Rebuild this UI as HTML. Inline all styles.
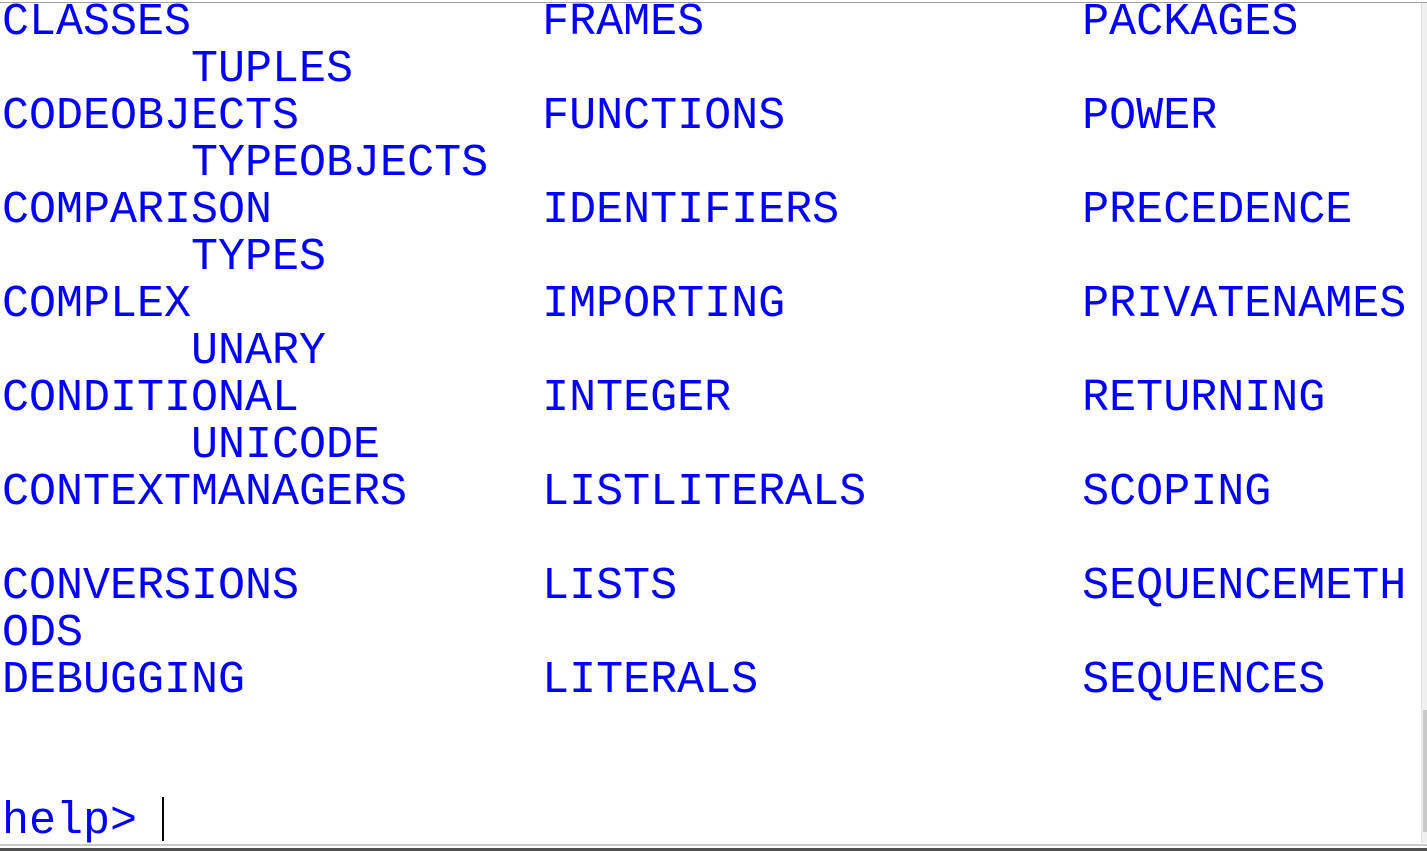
<!DOCTYPE html>
<html><head><style>
html,body{margin:0;padding:0;width:1427px;height:851px;overflow:hidden;background:#fff;position:relative}
.top{position:absolute;left:0;top:2px;width:1427px;height:1px;background:#a0a0a0}
pre{position:absolute;left:2px;top:-1px;margin:0;font-family:"Liberation Mono",monospace;font-size:45px;line-height:47px;color:#0000ff;white-space:pre}
.sb{position:absolute;left:1421px;top:3px;width:6px;height:840px;background:#f0f0f0;border-left:1px solid #e0e0e0}
.th{position:absolute;left:1423px;top:710px;width:4px;height:122px;background:#c8c8c8}
.bl{position:absolute;left:0;top:844px;width:1427px;height:2px;background:#c8c8c8}
.bd{position:absolute;left:0;top:848px;width:1427px;height:3px;background:#505050}
.cur{position:absolute;left:162px;top:797px;width:2px;height:44px;background:#000}
</style></head><body>
<div class="top"></div>
<pre>CLASSES             FRAMES              PACKAGES
       TUPLES
CODEOBJECTS         FUNCTIONS           POWER
       TYPEOBJECTS
COMPARISON          IDENTIFIERS         PRECEDENCE
       TYPES
COMPLEX             IMPORTING           PRIVATENAMES
       UNARY
CONDITIONAL         INTEGER             RETURNING
       UNICODE
CONTEXTMANAGERS     LISTLITERALS        SCOPING

CONVERSIONS         LISTS               SEQUENCEMETH
ODS
DEBUGGING           LITERALS            SEQUENCES


help&gt; </pre>
<div class="cur"></div>
<div class="sb"></div><div class="th"></div>
<div class="bl"></div><div class="bd"></div>
</body></html>
